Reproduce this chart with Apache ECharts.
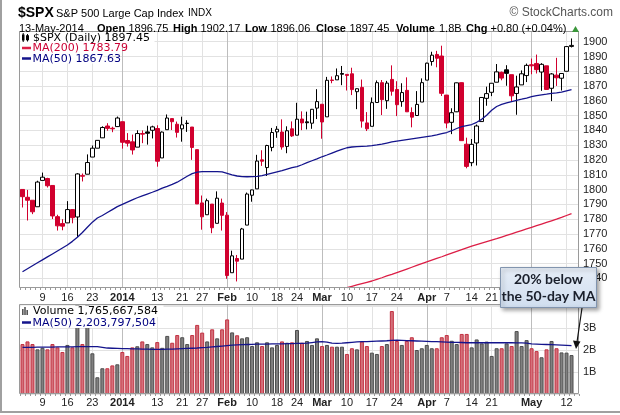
<!DOCTYPE html>
<html><head><meta charset="utf-8">
<script src="https://cdn.jsdelivr.net/npm/echarts@6/dist/echarts.min.js"></script>
<style>html,body{margin:0;padding:0;background:#fff}#c{width:620px;height:415px}</style>
</head><body><div id="c"></div>
<script>
// ---------------- DATA ----------------
const dates = [
'2013-12-03','2013-12-04','2013-12-05','2013-12-06','2013-12-09','2013-12-10','2013-12-11','2013-12-12','2013-12-13','2013-12-16',
'2013-12-17','2013-12-18','2013-12-19','2013-12-20','2013-12-23','2013-12-24','2013-12-26','2013-12-27','2013-12-30','2013-12-31',
'2014-01-02','2014-01-03','2014-01-06','2014-01-07','2014-01-08','2014-01-09','2014-01-10','2014-01-13','2014-01-14','2014-01-15',
'2014-01-16','2014-01-17','2014-01-21','2014-01-22','2014-01-23','2014-01-24','2014-01-27','2014-01-28','2014-01-29','2014-01-30',
'2014-01-31','2014-02-03','2014-02-04','2014-02-05','2014-02-06','2014-02-07','2014-02-10','2014-02-11','2014-02-12','2014-02-13',
'2014-02-14','2014-02-18','2014-02-19','2014-02-20','2014-02-21','2014-02-24','2014-02-25','2014-02-26','2014-02-27','2014-02-28',
'2014-03-03','2014-03-04','2014-03-05','2014-03-06','2014-03-07','2014-03-10','2014-03-11','2014-03-12','2014-03-13','2014-03-14',
'2014-03-17','2014-03-18','2014-03-19','2014-03-20','2014-03-21','2014-03-24','2014-03-25','2014-03-26','2014-03-27','2014-03-28',
'2014-03-31','2014-04-01','2014-04-02','2014-04-03','2014-04-04','2014-04-07','2014-04-08','2014-04-09','2014-04-10','2014-04-11',
'2014-04-14','2014-04-15','2014-04-16','2014-04-17','2014-04-21','2014-04-22','2014-04-23','2014-04-24','2014-04-25','2014-04-28',
'2014-04-29','2014-04-30','2014-05-01','2014-05-02','2014-05-05','2014-05-06','2014-05-07','2014-05-08','2014-05-09','2014-05-12',
'2014-05-13'];
const opens = [
1800.1,1794.8,1792.8,1788.4,1806.2,1807.5,1802.8,1781.7,1777.0,1777.5,
1786.5,1781.5,1809.0,1810.4,1822.0,1828.0,1835.0,1843.0,1841.5,1842.6,
1845.9,1833.2,1832.3,1828.7,1837.9,1839.0,1840.1,1841.3,1821.4,1840.5,
1848.0,1844.2,1841.1,1844.7,1842.3,1827.0,1791.0,1783.0,1790.2,1777.2,
1790.9,1782.7,1743.8,1753.4,1753.0,1776.0,1796.2,1800.5,1820.1,1814.9,
1828.5,1839.0,1838.9,1829.2,1841.1,1836.8,1847.7,1845.8,1844.9,1855.1,
1857.7,1849.2,1874.1,1874.2,1878.5,1877.9,1878.3,1866.2,1869.1,1845.1,
1842.8,1858.9,1872.3,1860.1,1874.5,1867.7,1859.5,1867.1,1852.1,1850.1,
1859.2,1874.0,1886.6,1891.4,1890.3,1863.9,1845.5,1852.6,1872.3,1830.7,
1818.2,1831.5,1846.0,1861.7,1865.8,1872.6,1879.3,1881.0,1877.7,1865.0,
1870.8,1877.1,1884.4,1885.3,1879.5,1883.7,1868.5,1877.4,1875.3,1880.0,
1896.8];
const highs = [
1800.1,1799.8,1792.8,1806.0,1811.5,1808.0,1802.8,1783.0,1780.0,1792.2,
1786.8,1811.1,1810.9,1823.8,1829.8,1833.3,1842.8,1844.9,1842.5,1849.4,
1845.9,1838.2,1837.2,1840.1,1840.0,1843.2,1843.2,1843.5,1839.3,1850.8,
1848.0,1846.0,1849.3,1846.9,1842.3,1827.0,1796.0,1793.9,1790.2,1798.8,
1793.9,1784.8,1758.7,1755.8,1774.1,1798.0,1799.9,1823.5,1826.6,1830.3,
1841.7,1842.9,1847.5,1842.8,1846.1,1858.7,1852.9,1852.7,1854.5,1867.9,
1857.7,1876.2,1876.5,1881.9,1883.6,1877.9,1882.4,1868.4,1874.4,1852.4,
1862.3,1873.8,1874.1,1873.5,1884.0,1873.3,1871.9,1875.9,1855.6,1866.6,
1875.2,1885.8,1893.2,1893.8,1897.3,1864.0,1855.0,1872.4,1872.5,1835.1,
1834.2,1844.0,1862.3,1869.6,1871.9,1884.9,1879.8,1884.1,1877.7,1877.0,
1880.6,1885.2,1888.6,1891.3,1885.5,1883.7,1878.8,1889.1,1878.6,1897.1,
1902.2];
const lows = [
1787.9,1779.1,1783.4,1788.4,1806.2,1801.4,1780.1,1772.3,1772.5,1777.5,
1777.2,1768.0,1805.5,1810.4,1822.0,1828.0,1835.0,1839.8,1838.8,1842.4,
1827.7,1829.1,1823.7,1828.7,1831.4,1830.4,1834.6,1815.5,1821.4,1840.5,
1840.3,1835.2,1832.4,1839.0,1820.1,1790.3,1772.9,1783.0,1770.5,1777.2,
1772.3,1739.7,1743.8,1737.9,1753.0,1776.0,1791.8,1800.5,1816.0,1809.2,
1825.9,1835.0,1827.0,1824.6,1835.6,1836.8,1840.2,1840.7,1841.1,1847.7,
1834.4,1849.2,1871.9,1874.2,1870.6,1867.0,1863.9,1854.4,1841.9,1839.6,
1842.8,1858.9,1850.4,1854.6,1863.5,1849.7,1856.0,1852.6,1842.1,1850.1,
1859.2,1874.0,1883.8,1882.7,1863.3,1841.5,1837.5,1852.4,1833.1,1814.4,
1815.8,1816.3,1846.0,1856.7,1863.2,1872.6,1873.9,1870.2,1859.7,1850.6,
1870.8,1872.7,1878.0,1878.5,1866.8,1867.7,1859.8,1870.1,1867.0,1880.0,
1896.1];
const closes = [
1795.2,1792.8,1785.0,1805.1,1808.4,1802.6,1782.2,1775.5,1775.3,1786.5,
1781.0,1810.6,1809.6,1818.3,1828.0,1833.3,1842.0,1841.4,1841.1,1848.4,
1832.0,1831.4,1826.8,1837.9,1837.5,1838.1,1842.4,1819.2,1838.9,1848.4,
1845.9,1838.7,1843.8,1844.9,1828.5,1790.3,1781.6,1792.5,1774.2,1794.2,
1782.6,1741.9,1755.2,1751.6,1773.4,1797.0,1799.8,1819.3,1819.2,1829.8,
1838.6,1840.8,1828.8,1839.8,1836.3,1847.6,1845.1,1845.2,1854.3,1859.5,
1845.7,1873.9,1873.8,1877.0,1878.0,1877.2,1867.6,1868.2,1846.3,1841.1,
1858.8,1872.3,1860.8,1872.0,1866.5,1857.4,1865.6,1852.6,1849.0,1857.6,
1872.3,1885.5,1890.9,1888.8,1865.1,1845.0,1852.0,1872.2,1833.1,1815.7,
1830.6,1843.0,1862.3,1864.9,1871.9,1879.6,1875.4,1878.6,1863.4,1869.4,
1878.3,1884.0,1883.7,1881.1,1884.7,1867.7,1878.2,1875.6,1878.5,1896.7,
1897.5];
const prevClose = 1800.9;
const volumesB = [
2.27,2.39,2.27,2.03,2.10,2.03,2.27,2.12,1.91,2.23,
2.12,4.10,2.27,5.00,1.85,0.76,1.17,1.17,1.30,1.35,
1.91,1.73,2.12,2.17,2.39,2.27,2.12,2.36,2.10,2.64,
2.33,2.68,2.58,2.27,2.68,3.14,2.79,2.39,2.94,2.53,
2.94,3.39,2.80,2.67,2.53,2.58,2.18,2.35,2.18,2.35,
2.12,2.23,2.39,2.33,2.35,2.91,2.33,2.41,2.23,2.53,
2.18,2.23,2.15,2.15,2.15,1.82,2.08,2.03,2.38,2.18,
1.88,1.82,2.18,2.27,3.77,2.41,2.23,2.41,2.58,2.00,
2.08,2.23,2.08,2.08,2.58,2.68,2.42,2.27,2.73,2.73,
2.12,2.48,2.30,2.38,1.73,2.08,2.08,2.30,2.18,2.86,
2.18,2.45,2.08,1.95,1.67,2.03,2.41,2.08,1.89,1.88,
1.77];
const ma50 = [
1744.5,1746.5,1748.5,1750.5,1752.5,1754.5,1756.5,1758.5,1760.5,1762.5,
1765.0,1767.8,1771.0,1774.5,1778.0,1780.8,1782.5,1784.5,1786.5,1788.5,
1790.0,1791.5,1793.0,1794.5,1795.8,1797.0,1798.2,1799.5,1801.0,1802.2,
1803.5,1805.0,1807.0,1809.0,1810.8,1811.8,1812.2,1812.2,1812.2,1812.2,
1812.0,1811.0,1810.0,1809.2,1808.8,1808.7,1808.8,1809.0,1809.5,1810.3,
1811.2,1812.0,1812.8,1813.8,1814.8,1815.6,1816.8,1818.2,1819.5,1820.8,
1822.2,1823.4,1824.7,1826.0,1827.2,1828.3,1828.8,1829.0,1829.2,1829.4,
1829.7,1830.2,1830.8,1831.5,1832.2,1832.8,1833.3,1833.8,1834.3,1834.8,
1835.3,1835.8,1836.3,1837.0,1837.8,1838.6,1839.8,1841.3,1842.6,1843.3,
1844.0,1845.5,1847.5,1850.3,1853.6,1856.2,1857.6,1858.6,1859.5,1860.4,
1861.1,1861.9,1862.8,1863.6,1864.1,1864.5,1865.0,1865.4,1865.9,1866.8,
1867.6];
const ma200 = [
'-','-','-','-','-','-','-','-','-','-','-','-','-','-','-','-','-','-','-','-',
'-','-','-','-','-','-','-','-','-','-','-','-','-','-','-','-','-','-','-','-',
'-','-','-','-','-','-','-','-','-','-','-','-','-','-','-','-','-','-','-','-',
'-','-','-','-','-',1733.7,1734.6,1735.5,1736.4,1737.3,
1738.2,1739.3,1740.4,1741.6,1742.7,1743.9,1745.1,1746.3,1747.5,1748.7,
1749.9,1751.1,1752.3,1753.5,1754.6,1755.8,1757.0,1758.2,1759.4,1760.6,
1761.8,1762.8,1763.8,1764.8,1765.8,1766.8,1767.9,1769.0,1770.1,1771.2,
1772.3,1773.4,1774.5,1775.6,1776.7,1777.8,1778.9,1780.0,1781.2,1782.5,
1783.8];
const volMa50B = [
2.12,2.12,2.12,2.13,2.13,2.13,2.13,2.14,2.14,2.14,
2.14,2.15,2.15,2.15,2.15,2.15,2.12,2.09,2.08,2.07,
2.06,2.06,2.05,2.05,2.04,2.04,2.03,2.03,2.03,2.04,
2.04,2.05,2.06,2.07,2.08,2.09,2.11,2.12,2.14,2.16,
2.18,2.20,2.22,2.23,2.24,2.25,2.26,2.27,2.27,2.27,
2.28,2.28,2.28,2.29,2.29,2.30,2.30,2.31,2.34,2.37,
2.38,2.36,2.31,2.30,2.31,2.33,2.35,2.37,2.38,2.38,
2.39,2.40,2.41,2.42,2.44,2.45,2.44,2.43,2.42,2.41,
2.40,2.39,2.38,2.38,2.37,2.36,2.35,2.35,2.34,2.33,
2.33,2.33,2.33,2.33,2.33,2.33,2.33,2.33,2.33,2.32,
2.32,2.31,2.28,2.27,2.26,2.25,2.24,2.23,2.22,2.21,
2.20];
const tickDates = ['2013-12-09','2013-12-16','2013-12-23','2014-01-02','2014-01-13','2014-01-21','2014-01-27',
'2014-02-03','2014-02-10','2014-02-18','2014-02-24','2014-03-03','2014-03-10','2014-03-17','2014-03-24',
'2014-04-01','2014-04-07','2014-04-14','2014-04-21','2014-05-01','2014-05-12'];
const tickLabels = ['9','16','23','2014','13','21','27','Feb','10','18','24','Mar','10','17','24','Apr','7','14','21','May','12'];
const boldLabels = ['2014','Feb','Mar','Apr','May'];
const priceTickMin = 1730, priceTickMax = 1910, priceStep = 10;
const volTickStep = 1e9;

// ---------------- LAYOUT ----------------
const PX_PER_PT = 1.479;
const Y1900 = 41.7;
const PANEL_L = 20, PANEL_W = 559;
const P_TOP = 32, P_BOT = 288;
const V_TOP = 305, V_BOT = 394, V_PX_PER_B = 22;
const gridTop0 = Y1900 - (priceTickMax - 1900) * PX_PER_PT;
const gridH0 = (priceTickMax - priceTickMin) * PX_PER_PT;
const priceLo = 1900 - (P_BOT - Y1900) / PX_PER_PT;
const priceHi = 1900 + (Y1900 - P_TOP) / PX_PER_PT;
const volMax = (V_BOT - V_TOP) / V_PX_PER_B * 1e9;

const RED = '#d1002e', BLACK = '#000', NAVY = '#14148c', CRIMSON = '#dc1e46';
const FONT = '"Liberation Sans", Arial, sans-serif';

const cats = dates.concat(['']);
const tickMap = {}; tickDates.forEach((d, k) => tickMap[d] = tickLabels[k]);
const tickIdx = tickDates.map(d => dates.indexOf(d));
const tickSet = new Set(tickIdx);

const candleData = dates.map((d, i) => {
  const pc = i === 0 ? prevClose : closes[i - 1];
  const col = closes[i] >= pc ? BLACK : RED;
  const fill = closes[i] >= opens[i] ? '#fff' : col;
  return { value: [opens[i], closes[i], lows[i], highs[i]],
    itemStyle: { color: fill, color0: fill, borderColor: col, borderColor0: col, borderColorDoji: col } };
});
const volData = volumesB.map((v, i) => {
  const pc = i === 0 ? prevClose : closes[i - 1];
  const up = closes[i] >= pc;
  return { value: v * 1e9, itemStyle: { color: up ? '#808080' : '#d4707a', borderColor: up ? '#4d4d4d' : '#c23040' } };
});

function vLines(lo, hi) {
  return tickIdx.map((i, k) => [
    { coord: [dates[i], lo], lineStyle: { color: boldLabels.includes(tickLabels[k]) ? '#bdbdbd' : '#e2e2e2', width: 1, type: 'solid' } },
    { coord: [dates[i], hi] }
  ]);
}
const nPriceTicks = Math.round((priceTickMax - priceTickMin) / priceStep) + 1;
const priceSplitColors = [];
for (let k = 0; k < nPriceTicks; k++) priceSplitColors.push(k === 0 || k === nPriceTicks - 1 ? 'rgba(0,0,0,0)' : '#e2e2e2');

const labelFmt = (val) => {
  const t = tickMap[val]; if (t === undefined) return '';
  return boldLabels.includes(t) ? '{b|' + t + '}' : t;
};
const xLabel = (margin) => ({
  show: true, interval: (idx) => tickSet.has(idx), formatter: labelFmt, margin: margin,
  fontSize: 11, fontFamily: FONT, color: '#222',
  rich: { b: { fontWeight: 'bold', fontSize: 11, fontFamily: FONT, color: '#222' } }
});

// ---------------- GRAPHICS ----------------
const G = [];
function T(x, y, s, o) { G.push({ type: 'text', x: x, y: y, z: 100, silent: true,
  style: Object.assign({ text: s, fill: '#000', font: '11px ' + FONT, verticalAlign: 'middle', align: 'left' }, o || {}) }); }
function R(x, y, w, h, o) { G.push({ type: 'rect', z: 99, silent: true, shape: { x: x, y: y, width: w, height: h }, style: Object.assign({ fill: '#fff' }, o || {}) }); }
function L(x1, y1, x2, y2, o) { G.push({ type: 'line', z: 101, silent: true, shape: { x1: x1, y1: y1, x2: x2, y2: y2 }, style: Object.assign({ stroke: '#000', lineWidth: 1 }, o || {}) }); }

// outer frame
L(1, 0, 1, 412, { stroke: '#a0a0a0', lineWidth: 2 });
L(0, 412, 620, 412, { stroke: '#a0a0a0', lineWidth: 2 });
// title rows
T(18, 13, '$SPX', { font: 'bold 14px ' + FONT });
T(56, 13.5, 'S&P 500 Large Cap Index', { font: '11px ' + FONT });
T(188, 13.5, 'INDX', { font: '10px ' + FONT });
T(613, 13, '\u00A9 StockCharts.com', { font: '12px ' + FONT, align: 'right', fill: '#555' });
const hdr = [[19, '13-May-2014', 0], [97, 'Open', 1], [128.5, '1896.75', 0], [173, 'High', 1], [200.5, '1902.17', 0],
  [245, 'Low', 1], [270.5, '1896.06', 0], [316, 'Close', 1], [349.5, '1897.45', 0], [396, 'Volume', 1], [439, '1.8B', 0],
  [466, 'Chg', 1], [490.5, '+0.80 (+0.04%)', 0]];
hdr.forEach(h => T(h[0], 29, h[1], { font: (h[2] ? 'bold ' : '') + '11px ' + FONT }));
G.push({ type: 'polygon', z: 100, silent: true, shape: { points: [[572, 32], [579, 32], [575.5, 26]] }, style: { fill: '#3a963a' } });

// price legend
R(20.5, 32.5, 134, 10.5); R(20.5, 43, 88, 10.5); R(20.5, 53.5, 83, 10);
G.push({ type: 'rect', z: 100, silent: true, shape: { x: 22, y: 34.5, width: 2.5, height: 6 }, style: { fill: '#000' } });
G.push({ type: 'rect', z: 100, silent: true, shape: { x: 26.5, y: 35.5, width: 2, height: 4.5 }, style: { fill: '#fff', stroke: '#000', lineWidth: 1 } });
L(23.2, 33, 23.2, 42, { lineWidth: 1 }); L(27.5, 34, 27.5, 41.5, { lineWidth: 1 });
T(33, 38, '$SPX (Daily) 1897.45', { font: '11px "DejaVu Sans"' });
L(22, 48, 31, 48, { stroke: CRIMSON, lineWidth: 2.5 });
T(32.5, 48.5, 'MA(200) 1783.79', { font: '11px "DejaVu Sans"', fill: '#cc0033' });
L(22, 58.5, 31, 58.5, { stroke: NAVY, lineWidth: 2.5 });
T(32.5, 59, 'MA(50) 1867.63', { font: '11px "DejaVu Sans"', fill: '#000080' });

// volume legend
R(20.5, 305.5, 143, 11.5); R(20.5, 317, 109, 11);
G.push({ type: 'rect', z: 100, silent: true, shape: { x: 22, y: 309, width: 1.6, height: 6 }, style: { fill: '#555' } });
G.push({ type: 'rect', z: 100, silent: true, shape: { x: 24.2, y: 307, width: 1.6, height: 8 }, style: { fill: '#555' } });
G.push({ type: 'rect', z: 100, silent: true, shape: { x: 26.4, y: 310, width: 1.6, height: 5 }, style: { fill: '#555' } });
T(33, 311.5, 'Volume 1,765,667,584', { font: '11px "DejaVu Sans"' });
L(22, 322.5, 31, 322.5, { stroke: NAVY, lineWidth: 2.5 });
T(32.5, 323, 'MA(50) 2,203,797,504', { font: '11px "DejaVu Sans"', fill: '#000080' });

// panel borders
G.push({ type: 'rect', z: 98, silent: true, shape: { x: PANEL_L - 0.5, y: P_TOP - 0.5, width: PANEL_W, height: P_BOT - P_TOP }, style: { fill: 'none', stroke: '#9a9a9a', lineWidth: 1 } });
G.push({ type: 'rect', z: 98, silent: true, shape: { x: PANEL_L - 0.5, y: V_TOP - 0.5, width: PANEL_W, height: V_BOT - V_TOP }, style: { fill: 'none', stroke: '#9a9a9a', lineWidth: 1 } });

// annotation
G.push({ type: 'rect', z: 110, silent: true, shape: { x: 500.5, y: 267.5, width: 96, height: 40 },
  style: { fill: new echarts.graphic.LinearGradient(0, 0, 0, 1, [{ offset: 0, color: '#e6edf7' }, { offset: 1, color: '#d0deef' }]),
    stroke: '#8194ae', lineWidth: 1, shadowBlur: 4, shadowOffsetX: 2, shadowOffsetY: 2, shadowColor: 'rgba(0,0,0,0.35)' } });
G.push({ type: 'text', z: 111, silent: true, x: 548.5, y: 279, style: { text: '20% below', font: 'bold 14px Lato', fill: '#1a1f2b', align: 'center', verticalAlign: 'middle' } });
G.push({ type: 'text', z: 111, silent: true, x: 548.5, y: 296.5, style: { text: 'the 50-day MA', font: 'bold 14px Lato', fill: '#1a1f2b', align: 'center', verticalAlign: 'middle' } });
G.push({ type: 'line', z: 111, silent: true, shape: { x1: 582, y1: 308, x2: 577, y2: 342 }, style: { stroke: '#111', lineWidth: 1.2 } });
G.push({ type: 'polygon', z: 111, silent: true, shape: { points: [[576, 349], [573, 340.5], [580.5, 341.5]] }, style: { fill: '#111' } });

// ---------------- CHART ----------------
const chart = echarts.init(document.getElementById('c'), null, { renderer: 'canvas' });
chart.setOption({
  animation: false,
  backgroundColor: '#fff',
  grid: [
    { left: PANEL_L, width: PANEL_W, top: gridTop0, height: gridH0, show: false },
    { left: PANEL_L, width: PANEL_W, top: V_TOP, height: V_BOT - V_TOP, show: false }
  ],
  xAxis: [
    { type: 'category', gridIndex: 0, data: cats, boundaryGap: true, offset: -(gridTop0 + gridH0 - P_BOT),
      axisLine: { show: false }, axisTick: { show: true, interval: 0, length: 2, lineStyle: { color: '#999' } },
      axisLabel: xLabel(4), splitLine: { show: false } },
    { type: 'category', gridIndex: 1, data: cats, boundaryGap: true,
      axisLine: { show: false }, axisTick: { show: true, interval: 0, length: 2, lineStyle: { color: '#999' } },
      axisLabel: xLabel(3), splitLine: { show: false } }
  ],
  yAxis: [
    { type: 'value', gridIndex: 0, position: 'right', min: priceTickMin, max: priceTickMax, interval: priceStep, scale: true,
      axisLine: { show: false }, axisTick: { show: false },
      axisLabel: { margin: 4, fontSize: 11, fontFamily: FONT, color: '#222',
        formatter: v => (v > priceTickMin && v < priceTickMax) ? String(Math.round(v)) : '' },
      splitLine: { show: true, lineStyle: { color: priceSplitColors, width: 1 } } },
    { type: 'value', gridIndex: 1, position: 'right', min: 0, max: volMax, interval: volTickStep,
      axisLine: { show: false }, axisTick: { show: false },
      axisLabel: { margin: 4, fontSize: 11, fontFamily: FONT, color: '#222',
        formatter: v => (v > 0 && v < volMax - 1e8 && Math.abs(v % 1e9) < 1) ? (v / 1e9) + 'B' : '' },
      splitLine: { show: true, lineStyle: { color: '#e2e2e2', width: 1 } } }
  ],
  series: [
    { type: 'candlestick', xAxisIndex: 0, yAxisIndex: 0, data: candleData, barWidth: 4,
      itemStyle: { borderWidth: 1 }, z: 3 },
    { type: 'line', xAxisIndex: 0, yAxisIndex: 0, data: ma200, symbol: 'none', z: 4,
      lineStyle: { color: CRIMSON, width: 1.3 } },
    { type: 'line', xAxisIndex: 0, yAxisIndex: 0, data: ma50, symbol: 'none', z: 4,
      lineStyle: { color: NAVY, width: 1.3 },
      markLine: { silent: true, symbol: ['none', 'none'], label: { show: false }, z: 1, animation: false,
        emphasis: { disabled: true }, data: vLines(priceLo, priceHi) } },
    { type: 'bar', xAxisIndex: 1, yAxisIndex: 1, data: volData, barWidth: 4, z: 3,
      itemStyle: { borderWidth: 1 } },
    { type: 'line', xAxisIndex: 1, yAxisIndex: 1, data: volMa50B.map(v => v * 1e9), symbol: 'none', z: 4,
      lineStyle: { color: NAVY, width: 1.3 },
      markLine: { silent: true, symbol: ['none', 'none'], label: { show: false }, z: 1, animation: false,
        emphasis: { disabled: true }, data: vLines(0, volMax) } }
  ],
  graphic: G
});
</script></body></html>
